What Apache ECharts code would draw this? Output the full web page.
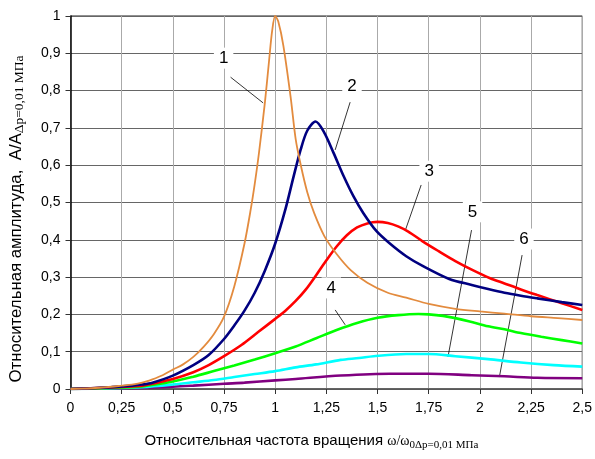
<!DOCTYPE html>
<html>
<head>
<meta charset="utf-8">
<script src="https://cdn.jsdelivr.net/npm/echarts@6/dist/echarts.min.js"></script>
<style>
  html, body { margin: 0; padding: 0; background: #fff; }
  #chart { width: 595px; height: 459px; }
</style>
</head>
<body>
<div id="chart"></div>
<script>
// кривые 1..6: [ω/ω0, A/A]
const curve1 = [[0,0],[0.1,0.002],[0.2,0.006],[0.25,0.009],[0.3,0.012],[0.35,0.017],[0.4,0.026],[0.45,0.037],[0.5,0.052],[0.55,0.066],[0.6,0.086],[0.65,0.113],[0.7,0.147],[0.75,0.194],[0.8,0.275],[0.85,0.39],[0.88,0.48],[0.9,0.55],[0.92,0.63],[0.95,0.77],[0.97,0.88],[0.985,0.96],[1.0,1.0],[1.015,0.985],[1.04,0.92],[1.076,0.78],[1.1,0.67],[1.125,0.6],[1.157,0.527],[1.19,0.472],[1.24,0.41],[1.3,0.362],[1.37,0.318],[1.45,0.285],[1.55,0.258],[1.64,0.245],[1.75,0.228],[1.88,0.215],[2.0,0.208],[2.12,0.202],[2.25,0.195],[2.38,0.19],[2.5,0.185]];
const curve2 = [[0,0],[0.1,0.002],[0.2,0.005],[0.3,0.009],[0.35,0.012],[0.4,0.017],[0.5,0.036],[0.6,0.064],[0.675,0.091],[0.75,0.134],[0.8,0.17],[0.85,0.21],[0.9,0.258],[0.95,0.318],[1.0,0.39],[1.05,0.482],[1.09,0.57],[1.125,0.643],[1.157,0.693],[1.197,0.717],[1.237,0.69],[1.285,0.633],[1.334,0.571],[1.382,0.517],[1.43,0.472],[1.495,0.423],[1.56,0.39],[1.64,0.356],[1.72,0.33],[1.85,0.295],[1.96,0.279],[2.04,0.268],[2.12,0.258],[2.2,0.25],[2.28,0.243],[2.4,0.233],[2.5,0.225]];
const curve3 = [[0,0],[0.1,0.002],[0.2,0.004],[0.3,0.007],[0.35,0.009],[0.5,0.027],[0.6,0.045],[0.675,0.064],[0.75,0.088],[0.835,0.118],[0.915,0.152],[1.0,0.188],[1.05,0.21],[1.1,0.236],[1.15,0.267],[1.2,0.305],[1.25,0.345],[1.3,0.382],[1.35,0.412],[1.4,0.433],[1.45,0.444],[1.5,0.448],[1.55,0.445],[1.6,0.436],[1.65,0.422],[1.72,0.396],[1.8,0.369],[1.88,0.343],[1.96,0.32],[2.05,0.297],[2.12,0.283],[2.2,0.267],[2.28,0.252],[2.4,0.23],[2.5,0.212]];
const curve4 = [[0,0],[0.2,0.003],[0.35,0.007],[0.5,0.02],[0.6,0.033],[0.7,0.048],[0.8,0.063],[0.9,0.079],[1.0,0.096],[1.1,0.114],[1.2,0.136],[1.3,0.158],[1.4,0.177],[1.5,0.191],[1.6,0.198],[1.7,0.201],[1.75,0.2],[1.82,0.196],[1.88,0.19],[1.95,0.181],[2.04,0.168],[2.12,0.16],[2.2,0.15],[2.3,0.14],[2.4,0.131],[2.5,0.122]];
const curve5 = [[0,0],[0.2,0.002],[0.35,0.005],[0.5,0.012],[0.6,0.018],[0.7,0.024],[0.8,0.032],[0.9,0.04],[1.0,0.048],[1.1,0.058],[1.2,0.066],[1.32,0.078],[1.41,0.083],[1.48,0.088],[1.64,0.094],[1.75,0.094],[1.88,0.088],[2.04,0.08],[2.2,0.071],[2.36,0.064],[2.5,0.06]];
const curve6 = [[0,0],[0.35,0.003],[0.5,0.006],[0.6,0.009],[0.75,0.014],[0.85,0.017],[1.0,0.023],[1.1,0.027],[1.32,0.036],[1.56,0.041],[1.75,0.041],[1.96,0.037],[2.12,0.034],[2.28,0.03],[2.5,0.029]];

// номера кривых и выноски (в координатах данных)
const labelNames = ["1", "2", "3", "4", "5", "6"];
const labelPos = [[0.748,0.887],[1.375,0.812],[1.752,0.584],[1.274,0.271],[1.964,0.475],[2.215,0.402]];
const leaderFrom = [[0.782,0.836],[1.366,0.769],[1.713,0.547],[1.293,0.212],[1.959,0.426],[2.206,0.359]];
const leaderTo = [[0.941,0.767],[1.293,0.641],[1.636,0.426],[1.342,0.172],[1.844,0.086],[2.095,0.032]];

const colors = ["#E38B3E", "#000080", "#FF0000", "#00FF00", "#00FFFF", "#800080"];
const widths = [1.8, 2.6, 2.6, 2.6, 2.6, 2.6];
const curves = [curve1, curve2, curve3, curve4, curve5, curve6];

const sans = "Arial, 'Liberation Sans', sans-serif";
const serif = "'Times New Roman', 'Liberation Serif', serif";
const comma = v => String(v).replace(".", ",");

const chart = echarts.init(document.getElementById("chart"));

const series = curves.map((c, i) => ({
  type: "line",
  data: c,
  smooth: 0.3,
  showSymbol: false,
  z: 10 - i,
  lineStyle: { color: colors[i], width: widths[i] },
  markLine: {
    silent: true,
    symbol: "none",
    label: { show: false },
    lineStyle: { color: "#000", width: 0.8, type: "solid" },
    data: [[{ coord: leaderFrom[i] }, { coord: leaderTo[i] }]],
  },
  markPoint: {
    silent: true,
    symbol: "rect",
    symbolSize: 0.1,
    label: {
      show: true,
      position: "inside",
      formatter: labelNames[i],
      fontFamily: sans,
      fontSize: 17,
      color: "#000",
      backgroundColor: "#fff",
      padding: [2, 5],
    },
    data: [{ coord: labelPos[i] }],
  },
}));

const option = {
  animation: false,
  grid: {
    left: 67,
    right: 10,
    top: 16,
    bottom: 70,
    show: true,
    borderColor: "#222",
    borderWidth: 1,
  },
  xAxis: {
    type: "value",
    min: 0,
    max: 2.5,
    interval: 0.25,
    axisLine: { lineStyle: { color: "#555", width: 1.5 } },
    axisTick: { show: true, length: 5, lineStyle: { color: "#333" } },
    axisLabel: {
      color: "#000",
      fontFamily: sans,
      fontSize: 14,
      margin: 12,
      formatter: comma,
    },
    splitLine: { lineStyle: { color: "#aaa", width: 1 } },
    name: "{a|Относительная частота вращения }{w|ω/ω}{s|0Δp=0,01 МПа}",
    nameLocation: "middle",
    nameGap: 42,
    nameTextStyle: {
      padding: [0, 30, 0, 0],
      rich: {
        a: { fontFamily: sans, fontSize: 15, color: "#000", lineHeight: 20 },
        w: { fontFamily: serif, fontSize: 14, color: "#000", lineHeight: 20 },
        s: { fontFamily: serif, fontSize: 11, color: "#000", lineHeight: 10, verticalAlign: "bottom" },
      },
    },
  },
  yAxis: {
    type: "value",
    min: 0,
    max: 1,
    interval: 0.1,
    axisLine: { show: true, lineStyle: { color: "#000", width: 1.5 } },
    axisTick: { show: true, length: 5, lineStyle: { color: "#333" } },
    axisLabel: {
      color: "#000",
      fontFamily: sans,
      fontSize: 14,
      margin: 10,
      formatter: comma,
    },
    splitLine: { lineStyle: { color: "#666", width: 1 } },
    name: "{a|Относительная амплитуда,  A/A}{s|Δp=0,01 МПа}",
    nameLocation: "middle",
    nameGap: 44,
    nameRotate: 90,
    nameTextStyle: {
      padding: [0, 33, 0, 0],
      rich: {
        a: { fontFamily: sans, fontSize: 16.8, color: "#000", lineHeight: 20 },
        s: { fontFamily: serif, fontSize: 13.5, color: "#000", lineHeight: 11, verticalAlign: "bottom" },
      },
    },
  },
  series: series,
};

chart.setOption(option);
</script>
</body>
</html>
